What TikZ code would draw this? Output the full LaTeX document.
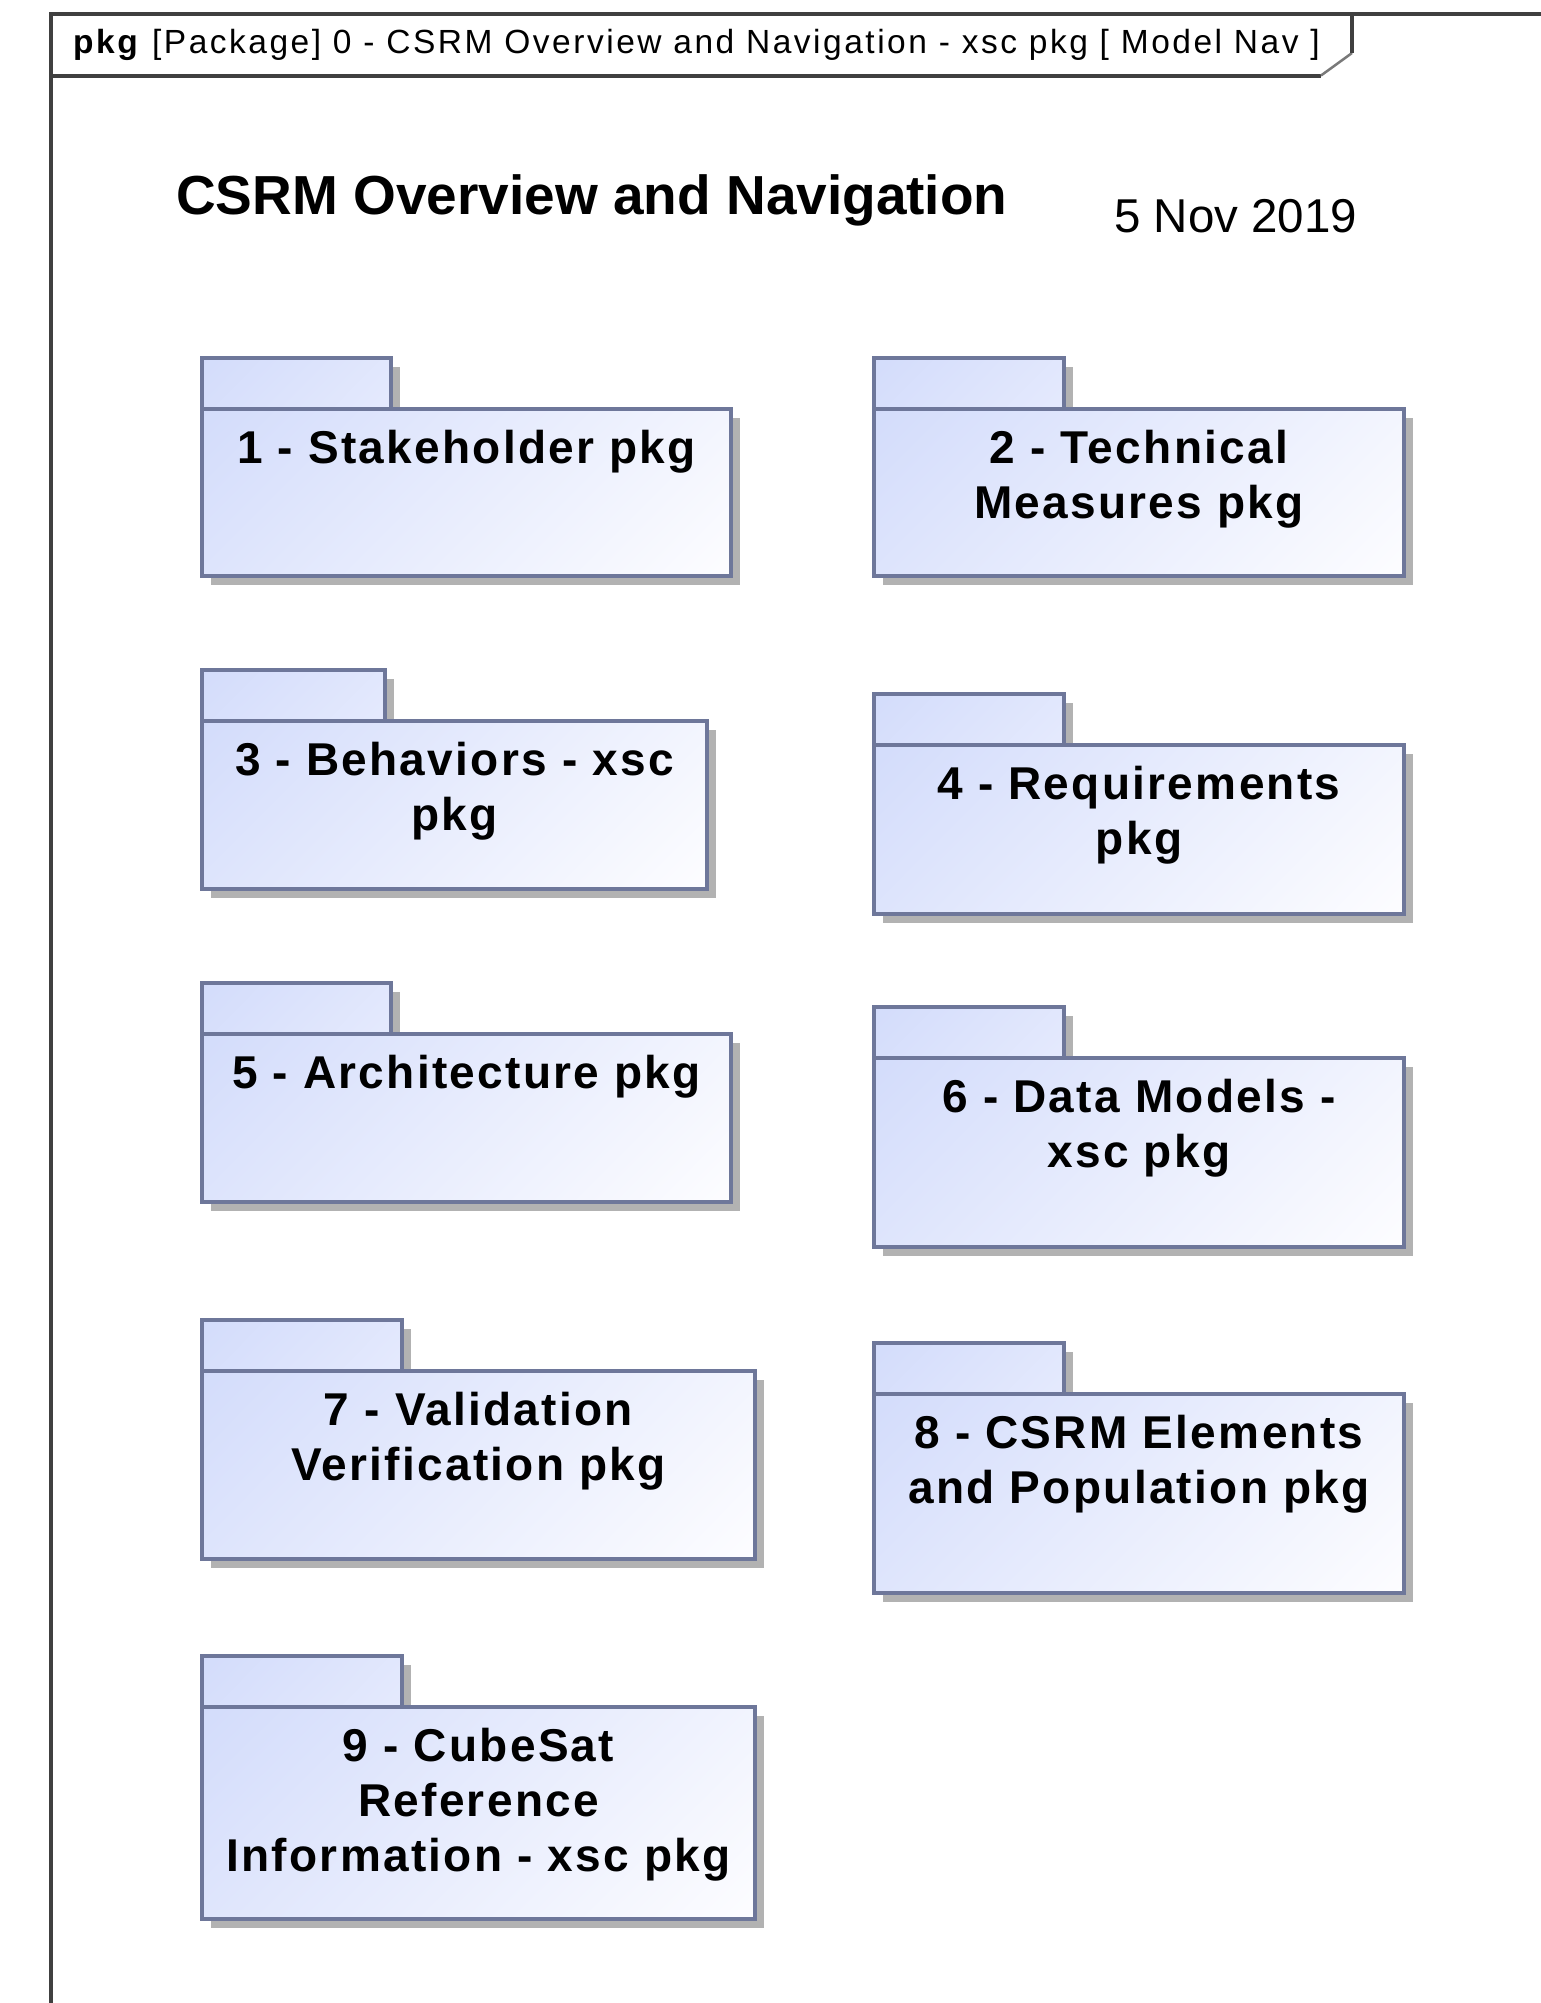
\documentclass[tikz,border=0pt]{standalone}
\usepackage{fontspec}
\setmainfont{Liberation Sans}
\newfontfamily\boxfont[LetterSpace=5.0]{Liberation Sans}
\newfontfamily\hdrfont[LetterSpace=7.5]{Liberation Sans}
\usetikzlibrary{calc,shadows,shadings}

\definecolor{pkgline}{RGB}{110,119,154}
\definecolor{pkgfillA}{RGB}{211,220,251}
\definecolor{pkgfillB}{RGB}{253,253,255}
\definecolor{tabfillB}{RGB}{229,234,253}
\definecolor{shadowgray}{RGB}{178,178,178}
\definecolor{framegray}{RGB}{64,64,64}

\tikzset{
  pkgshadow/.style={drop shadow={shadow xshift=9pt, shadow yshift=-9pt,
      fill=shadowgray, opacity=1}},
  pkgbody/.style={draw=pkgline, line width=3.5pt, shade,
      upper left=pkgfillA, lower right=pkgfillB, pkgshadow,
      anchor=north west, inner sep=0pt, outer sep=0pt},
  pkgtab/.style={draw=pkgline, line width=3.5pt, shade,
      upper left=pkgfillA, lower right=tabfillB, pkgshadow,
      anchor=north west, inner sep=0pt, outer sep=0pt},
  pkglabel/.style={font=\fontsize{46}{55}\boxfont\bfseries, align=center,
      anchor=base, inner sep=0pt},
  frameline/.style={draw=framegray, line width=4pt},
  notchline/.style={draw=framegray!70, line width=2.5pt},
}

% package symbol: id, left, tab right, tab top, body top, body right,
% body bottom, label, number of label lines.
% The fill runs linearly along the 45 degree diagonal, so the corner
% colours of the bilinear shading depend on each shape's proportions.
\newcommand\pkgpackage[9]{%
  \pgfmathtruncatemacro\pkgur{round(100/((#6-#2)/(#7-#5)+1))}%
  \pgfmathtruncatemacro\pkgll{100-\pkgur}%
  \colorlet{#1ur}{pkgfillA!\pkgur!pkgfillB}%
  \colorlet{#1ll}{pkgfillA!\pkgll!pkgfillB}%
  \pgfmathtruncatemacro\pkgur{round(100/((#3-#2)/(#5-#4)+1))}%
  \pgfmathtruncatemacro\pkgll{100-\pkgur}%
  \colorlet{#1tabur}{pkgfillA!\pkgur!tabfillB}%
  \colorlet{#1tabll}{pkgfillA!\pkgll!tabfillB}%
  \node[pkgtab, upper right=#1tabur, lower left=#1tabll,
    minimum width={(#3-#2)*1pt}, minimum height={(#5-#4)*1pt}]
    (#1tab) at (#2,#4) {};
  \node[pkgbody, upper right=#1ur, lower left=#1ll,
    minimum width={(#6-#2)*1pt}, minimum height={(#7-#5)*1pt}]
    (#1) at (#2,#5) {};
  \node[pkglabel] (#1label) at ($(#1.north)+(0,{54+(#9-1)*55})$) {#8};
}

\begin{document}
\begin{tikzpicture}[x=1pt, y=-1pt]
  \useasboundingbox (0,0) rectangle (1541,2003);
  \fill[white] (0,0) rectangle (1541,2003);

  % diagram frame with its name tab
  \draw[frameline] (51,2010) -- (51,14) -- (1545,14);
  \draw[frameline] (51,75.5) -- (1321,75.5);
  \draw[notchline] (1321,75.5) -- (1352,53);
  \draw[frameline] (1352,53) -- (1352,14);
  \node[anchor=base west, inner sep=0pt, font=\fontsize{33.5}{36}\hdrfont]
    (frametitle) at (73,53) {\textbf{pkg} [Package] 0 - CSRM Overview and Navigation - xsc pkg [ Model Nav ]};

  % heading and date
  \node[anchor=base west, inner sep=0pt, font=\fontsize{55}{60}\selectfont\bfseries]
    (heading) at (176,214) {CSRM Overview and Navigation};
  \node[anchor=base west, inner sep=0pt, font=\fontsize{47.5}{52}\selectfont]
    (date) at (1114,232) {5 Nov 2019};

  % packages
  \pkgpackage{p1}{202}{391}{358}{409}{731}{576}{1 - Stakeholder pkg}{1}
  \pkgpackage{p2}{874}{1064}{358}{409}{1404}{576}{2 - Technical\\Measures pkg}{2}
  \pkgpackage{p3}{202}{385}{670}{721}{707}{889}{3 - Behaviors - xsc\\pkg}{2}
  \pkgpackage{p4}{874}{1064}{694}{745}{1404}{914}{4 - Requirements\\pkg}{2}
  \pkgpackage{p5}{202}{391}{983}{1034}{731}{1202}{5 - Architecture pkg}{1}
  \pkgpackage{p6}{874}{1064}{1007}{1058}{1404}{1247}{6 - Data Models -\\xsc pkg}{2}
  \pkgpackage{p7}{202}{402}{1320}{1371}{755}{1559}{7 - Validation\\Verification pkg}{2}
  \pkgpackage{p8}{874}{1064}{1343}{1394}{1404}{1593}{8 - CSRM Elements\\and Population pkg}{2}
  \pkgpackage{p9}{202}{402}{1656}{1707}{755}{1919}{9 - CubeSat\\Reference\\Information - xsc pkg}{3}
\end{tikzpicture}
\end{document}
